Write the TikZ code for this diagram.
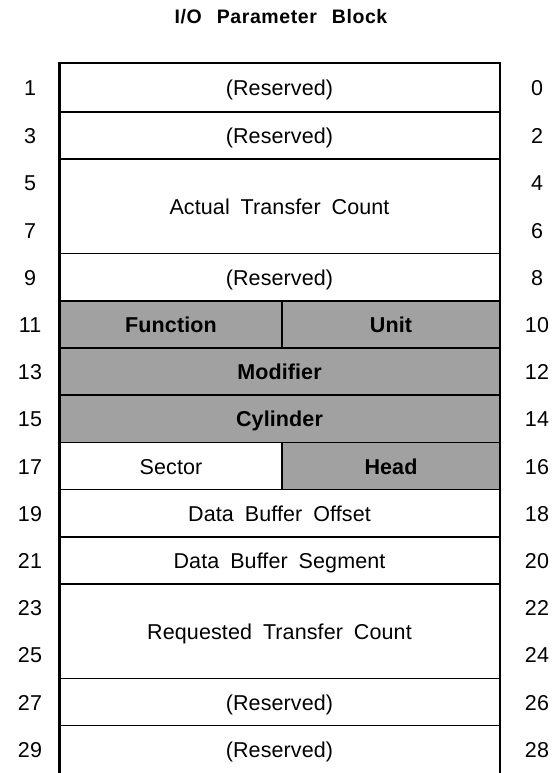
\documentclass[tikz,border=0pt]{standalone}
\usepackage{fontspec}
\setmainfont{Liberation Sans}
\newfontfamily\bodyfont{Liberation Sans}[LetterSpace=0.5, WordSpace=1.8]
\newfontfamily\headfont{Liberation Sans}[LetterSpace=3, WordSpace=2.5]
\begin{document}
\begin{tikzpicture}[x=1pt, y=-1pt]
\tikzset{
  rule/.style={line width=1.6pt},
  side/.style={line width=2.2pt},
  shaded/.style={fill=black!37},
  field/.style={font=\bodyfont\fontsize{21.5}{24}\selectfont, inner sep=0pt, anchor=base},
  hfield/.style={field, font=\bodyfont\fontsize{21.5}{24}\selectfont\bfseries},
  num/.style={font=\bodyfont\fontsize{21.5}{24}\selectfont, inner sep=0pt, anchor=base},
  heading/.style={font=\headfont\fontsize{19.5}{22}\selectfont\bfseries, inner sep=0pt, anchor=base}
}
\useasboundingbox (0,0) rectangle (554,773);

% shaded fields
\fill[shaded] (59.5,300.8) rectangle (500,442.4);
\fill[shaded] (282,442.4) rectangle (500,489.6);

% horizontal rules between words
\foreach \yy in {63,112,159.2,253.6,300.8,348,395.2,442.4,489.6,536.8,584,678.4,725.6}
  \draw[rule] (59.5,\yy) -- (500,\yy);
% outer sides, open at the bottom
\draw[side] (59.5,62) -- (59.5,776);
\draw[side] (500,62) -- (500,776);
% byte dividers
\draw[rule] (282,300.8) -- (282,348);
\draw[rule] (282,442.4) -- (282,489.6);

% title
\node[heading] (title) at (281,24) {I/O Parameter Block};

% field names
\node[field] (res0) at (279.5,95.5) {(Reserved)};
\node[field] (res2) at (279.5,143.6) {(Reserved)};
\node[field] (atc) at (279.5,214.4) {Actual Transfer Count};
\node[field] (res8) at (279.5,285.2) {(Reserved)};
\node[hfield] (func) at (171,332.4) {Function};
\node[hfield] (unit) at (391,332.4) {Unit};
\node[hfield] (modf) at (279.5,379.6) {Modifier};
\node[hfield] (cyl) at (279.5,426.8) {Cylinder};
\node[field] (sect) at (171,474) {Sector};
\node[hfield] (head) at (391,474) {Head};
\node[field] (dbo) at (279.5,521.2) {Data Buffer Offset};
\node[field] (dbs) at (279.5,568.4) {Data Buffer Segment};
\node[field] (rtc) at (279.5,639.2) {Requested Transfer Count};
\node[field] (res26) at (279.5,710) {(Reserved)};
\node[field] (res28) at (279.5,757.3) {(Reserved)};

% byte offsets: odd on the left, even on the right
\foreach \n/\yy in {1/95.5,3/143.6,5/190.8,7/238,9/285.2,11/332.4,13/379.6,15/426.8,17/474,19/521.2,21/568.4,23/615.6,25/662.8,27/710,29/757.3}
  \node[num] (odd\n) at (30,\yy) {\n};
\foreach \n/\yy in {0/95.5,2/143.6,4/190.8,6/238,8/285.2,10/332.4,12/379.6,14/426.8,16/474,18/521.2,20/568.4,22/615.6,24/662.8,26/710,28/757.3}
  \node[num] (even\n) at (537,\yy) {\n};
\end{tikzpicture}
\end{document}
